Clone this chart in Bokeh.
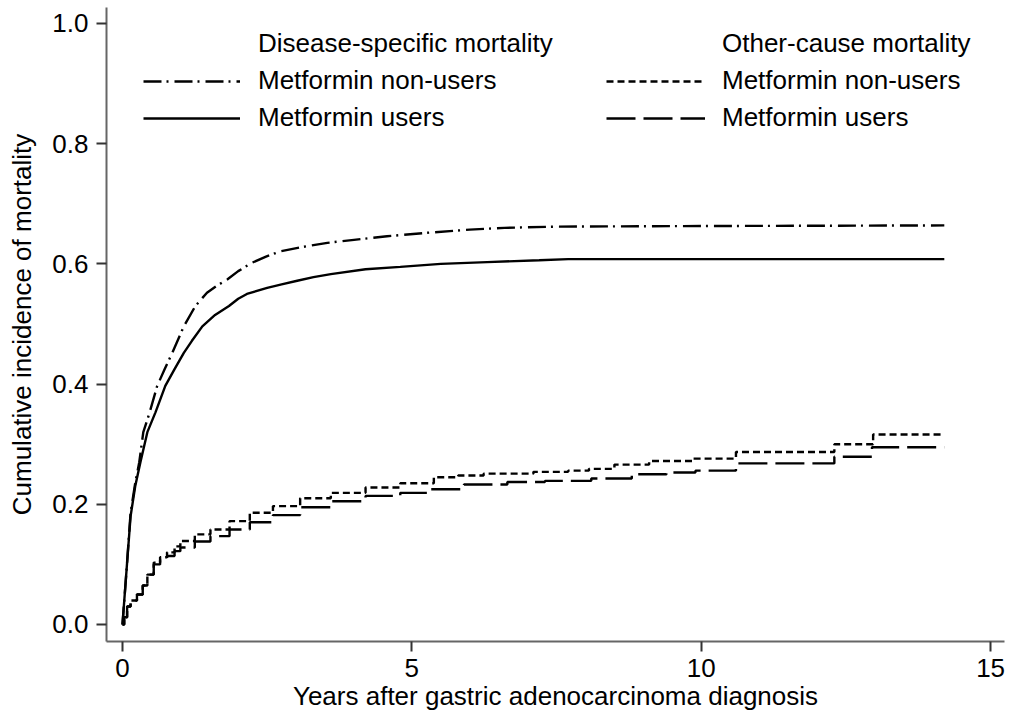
from bokeh.plotting import figure
from bokeh.models import Legend, LegendItem, FixedTicker, NumeralTickFormatter, Range1d
from bokeh.embed import file_html
from bokeh.resources import INLINE

# Disease-specific mortality, metformin non-users
years_ds_non = [0, 0.07, 0.14, 0.22, 0.29, 0.36, 0.47, 0.6, 0.73, 0.86, 1.06, 1.26, 1.46,
                1.62, 1.81, 2.0, 2.24, 2.48, 2.73, 3.1, 3.54, 4.0, 4.57, 5.3, 6.0, 6.6, 7.5, 10.0, 14.2]
cif_ds_non = [0, 0.09, 0.186, 0.235, 0.27, 0.32, 0.353, 0.397, 0.425, 0.452, 0.496, 0.530, 0.552,
              0.563, 0.574, 0.588, 0.602, 0.612, 0.621, 0.628, 0.635, 0.640, 0.646, 0.652, 0.657,
              0.660, 0.662, 0.663, 0.664]

# Disease-specific mortality, metformin users
years_ds_users = [0, 0.07, 0.14, 0.22, 0.31, 0.43, 0.57, 0.74, 0.9, 1.06, 1.2, 1.38, 1.6, 1.84,
                  2.0, 2.15, 2.5, 2.75, 3.02, 3.3, 3.6, 4.2, 4.8, 5.5, 6.3, 7.2, 7.7, 14.2]
cif_ds_users = [0, 0.09, 0.18, 0.23, 0.27, 0.32, 0.353, 0.397, 0.425, 0.452, 0.472, 0.496, 0.515, 0.530,
                0.542, 0.550, 0.560, 0.566, 0.572, 0.578, 0.583, 0.591, 0.595, 0.600, 0.603, 0.606,
                0.608, 0.608]

# Other-cause mortality, metformin non-users
years_oc_non = [0, 0.03, 0.08, 0.14, 0.25, 0.35, 0.43, 0.54, 0.65, 0.77, 0.9, 1.0, 1.25, 1.52,
                1.85, 2.2, 2.6, 3.07, 3.6, 4.2, 4.8, 5.38, 5.8, 6.24, 7.1, 7.7, 8.06, 8.5, 9.1,
                9.85, 10.6, 12.3, 12.97, 14.2]
cif_oc_non = [0, 0.012, 0.03, 0.04, 0.05, 0.065, 0.083, 0.103, 0.112, 0.12, 0.13, 0.139, 0.15, 0.158,
              0.172, 0.186, 0.197, 0.21, 0.219, 0.228, 0.235, 0.245, 0.248, 0.251, 0.254, 0.256, 0.259,
              0.266, 0.272, 0.276, 0.287, 0.30, 0.316, 0.316]

# Other-cause mortality, metformin users
years_oc_users = [0, 0.03, 0.08, 0.14, 0.25, 0.35, 0.43, 0.54, 0.65, 0.77, 0.9, 1.0, 1.25, 1.52,
                  1.85, 2.2, 2.6, 3.07, 3.6, 4.2, 4.8, 5.3, 5.9, 6.65, 7.3, 8.1, 8.8, 9.4, 9.9,
                  10.6, 12.3, 12.95, 14.2]
cif_oc_users = [0, 0.012, 0.03, 0.04, 0.05, 0.065, 0.083, 0.10, 0.107, 0.114, 0.122, 0.128, 0.138, 0.147,
                0.158, 0.17, 0.182, 0.195, 0.205, 0.214, 0.219, 0.225, 0.233, 0.237, 0.239, 0.243, 0.25,
                0.253, 0.256, 0.268, 0.279, 0.295, 0.295]

x_ticks = [0, 5, 10, 15]
y_ticks = [0.0, 0.2, 0.4, 0.6, 0.8, 1.0]
x_title = "Years after gastric adenocarcinoma diagnosis"
y_title = "Cumulative incidence of mortality"
group_titles = ["Disease-specific mortality", "Other-cause mortality"]
series_labels = ["Metformin non-users", "Metformin users"]

FONT = "Liberation Sans"
FS = "26px"

p = figure(frame_width=898, frame_height=634, output_backend="svg", toolbar_location=None,
           x_range=Range1d(-0.276, 15.24), y_range=Range1d(-0.0283, 1.0266),
           min_border_left=106, min_border_right=2, min_border_top=7, min_border_bottom=20)
p.outline_line_color = None
p.grid.visible = False
p.background_fill_color = "white"
p.border_fill_color = "white"

for ax in (p.xaxis[0], p.yaxis[0]):
    ax.axis_line_color = "#666666"
    ax.axis_line_width = 2
    ax.major_tick_line_color = "#333333"
    ax.major_tick_line_width = 2
    ax.major_tick_out = 10
    ax.major_tick_in = 0
    ax.minor_tick_line_color = None
    ax.major_label_text_font = FONT
    ax.major_label_text_font_size = FS
    ax.major_label_text_color = "black"
    ax.axis_label_text_font = FONT
    ax.axis_label_text_font_size = FS
    ax.axis_label_text_font_style = "normal"
    ax.axis_label_text_color = "black"

p.xaxis[0].ticker = FixedTicker(ticks=x_ticks)
p.yaxis[0].ticker = FixedTicker(ticks=y_ticks)
p.yaxis[0].formatter = NumeralTickFormatter(format="0.0")
p.xaxis[0].axis_label = x_title
p.yaxis[0].axis_label = y_title
p.xaxis[0].major_label_standoff = 7
p.xaxis[0].axis_label_standoff = 1
p.yaxis[0].major_label_standoff = 8
p.yaxis[0].axis_label_standoff = 12

LW = 2.4
r_ds_non = p.line(years_ds_non, cif_ds_non, line_color="black", line_width=LW, line_dash="18 5 2 6")
r_ds_users = p.line(years_ds_users, cif_ds_users, line_color="black", line_width=LW)
r_oc_non = p.step(years_oc_non, cif_oc_non, mode="after", line_color="black", line_width=LW, line_dash="7 4")
r_oc_users = p.step(years_oc_users, cif_oc_users, mode="after", line_color="black", line_width=LW, line_dash="29 8")

# invisible renderers used as group headers in the legends
r_head1 = p.line([], [], line_alpha=0)
r_head2 = p.line([], [], line_alpha=0)

def make_legend(items, x, glyph_w, standoff):
    lg = Legend(items=items, location=(x, 508), orientation="vertical",
                glyph_width=glyph_w, glyph_height=30, label_height=30, spacing=6,
                label_standoff=standoff, padding=0, margin=0,
                border_line_color=None, background_fill_alpha=0,
                label_text_font=FONT, label_text_font_size=FS, label_text_color="black")
    return lg

leg1 = make_legend([LegendItem(label=group_titles[0], renderers=[r_head1]),
                    LegendItem(label=series_labels[0], renderers=[r_ds_non]),
                    LegendItem(label=series_labels[1], renderers=[r_ds_users])], 37, 97, 18)
leg2 = make_legend([LegendItem(label=group_titles[1], renderers=[r_head2]),
                    LegendItem(label=series_labels[0], renderers=[r_oc_non]),
                    LegendItem(label=series_labels[1], renderers=[r_oc_users])], 500, 99, 17)
p.add_layout(leg1, "center")
p.add_layout(leg2, "center")

open("out.html", "w").write(file_html(p, INLINE))
